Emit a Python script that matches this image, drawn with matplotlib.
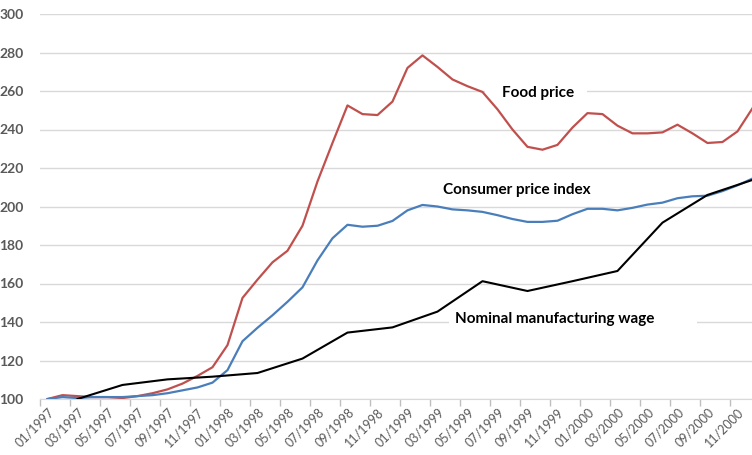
import numpy as np
import matplotlib.pyplot as plt
from matplotlib.patches import Rectangle

# monthly categories 01/1997 .. 12/2000
months = [f"{m:02d}/{y}" for y in range(1997, 2001) for m in range(1, 13)]

food_price = [100, 102, 101.5, 101, 101, 100.5, 101.5, 103, 105, 108, 112, 116.5,
              128, 152.5, 162, 171, 177, 190, 213, 233, 252.5, 248, 247.5, 254.5,
              272, 278.5, 272.5, 266, 262.5, 259.5, 250.5, 240, 231, 229.5, 232, 241,
              248.5, 248, 242, 238, 238, 238.5, 242.5, 238, 233, 233.5, 239, 251]

cpi = [100, 101, 100.5, 101, 101, 101, 101.5, 102, 103, 104.5, 106, 108.5,
       115, 130, 137, 143.5, 150.5, 158, 172, 183.5, 190.5, 189.5, 190, 192.5,
       198, 200.8, 200, 198.5, 198, 197.2, 195.5, 193.5, 192, 192, 192.6, 196,
       198.8, 198.8, 198, 199.3, 201, 202, 204.3, 205.3, 205.6, 208, 211, 214.5]

# quarterly wage, placed at the month index of each quarter's last month
wage_idx = [2, 5, 8, 11, 14, 17, 20, 23, 26, 29, 32, 35, 38, 41, 44, 47]
wage = [100, 107.3, 110.2, 111.6, 113.5, 121, 134.5, 137.2, 145.4, 161.2,
        156.1, 161.2, 166.5, 191.6, 206, 213.8]

plt.rcParams['font.family'] = ['Lato', 'DejaVu Sans']

fig = plt.figure(figsize=(7.52, 4.55), dpi=100)
ax = fig.add_axes([40 / 752, 56 / 455, 712 / 752, 385 / 455])

x = np.arange(len(months))
ax.plot(x, food_price, color='#C0504D', lw=1.6, zorder=3)
ax.plot(x, cpi, color='#4A7EBB', lw=1.6, zorder=3)
ax.plot(wage_idx, wage, color='black', lw=1.5, zorder=4)

ax.set_xlim(-0.5, 46.97)
ax.set_ylim(100, 300)
ax.set_yticks(range(100, 301, 20))
ax.grid(axis='y', color='#D9D9D9', lw=1)
ax.set_axisbelow(True)

ax.set_xticks(x[::2])
ax.set_xticklabels(months[::2], rotation=45, ha='right', rotation_mode='anchor',
                   fontsize=9, color='#595959')
ax.set_xticks(np.arange(-0.5, 47, 2), minor=True)
ax.tick_params(axis='x', which='major', length=0, pad=5)
ax.tick_params(axis='x', which='minor', length=5, color='#BFBFBF', width=1)
ax.tick_params(axis='y', length=0, pad=12, labelsize=10, labelcolor='#595959')
for lab in ax.get_yticklabels():
    lab.set_fontweight('bold')

for s in ['top', 'right', 'left']:
    ax.spines[s].set_visible(False)
ax.spines['bottom'].set_color('#D9D9D9')

# white text boxes hiding the gridlines behind the labels
ax.add_patch(Rectangle((29.2, 255), 6.8, 8, facecolor='white', edgecolor='none', zorder=2))
ax.add_patch(Rectangle((26.8, 137.5), 16.5, 7.5, facecolor='white', edgecolor='none', zorder=2))

ax.text(30.3, 259, 'Food price', fontsize=11, fontweight='bold', ha='left', va='center', zorder=5)
ax.text(26.4, 208.5, 'Consumer price index', fontsize=11, fontweight='bold', ha='left', va='center', zorder=5)
ax.text(27.2, 141.5, 'Nominal manufacturing wage', fontsize=11, fontweight='bold',
        ha='left', va='center', zorder=5)

fig.savefig('out.png', dpi=100)
